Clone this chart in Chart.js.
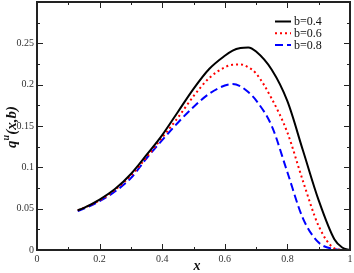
<!DOCTYPE html>
<html>
<head>
<meta charset="utf-8">
<script src="https://cdn.jsdelivr.net/npm/chart.js@4"></script>
<style>
html, body { margin: 0; padding: 0; background: #fff; }
</style>
</head>
<body>
<canvas id="myChart" width="354" height="273"></canvas>
<script>
// values
const xValues = [0.13, 0.15, 0.2, 0.25, 0.3, 0.35, 0.4, 0.45, 0.5, 0.55, 0.6, 0.625, 0.65, 0.675, 0.7, 0.75, 0.8, 0.85, 0.9, 0.95, 0.975, 1.0];
const qB04 = [0.048, 0.051, 0.061, 0.074, 0.092, 0.115, 0.139, 0.167, 0.195, 0.219, 0.235, 0.2412, 0.2443, 0.245, 0.240, 0.218, 0.180, 0.120, 0.060, 0.013, 0.003, 0];
const qB06 = [0.048, 0.051, 0.060, 0.073, 0.090, 0.112, 0.136, 0.160, 0.186, 0.208, 0.221, 0.2242, 0.2245, 0.221, 0.2135, 0.183, 0.142, 0.083, 0.029, 0.002, 0.0003, 0];
const qB08 = [0.047, 0.050, 0.059, 0.071, 0.087, 0.111, 0.133, 0.154, 0.173, 0.189, 0.199, 0.2008, 0.198, 0.191, 0.181, 0.150, 0.094, 0.038, 0.009, 0.001, 0, 0];
const seriesLabels = ['b=0.4', 'b=0.6', 'b=0.8'];
const xTicks = [0, 0.2, 0.4, 0.6, 0.8, 1];
const yTicks = [0, 0.05, 0.1, 0.15, 0.2, 0.25];

const serif = '"Liberation Serif", "DejaVu Serif", serif';

function toPoints(ys){
    return xValues.map((x, i) => ({x: x, y: ys[i]}));
}

// frame, inward ticks on all sides, legend and axis titles
const framePlugin = {
    id: 'frame',
    afterDraw(chart){
        const ctx = chart.ctx;
        const a = chart.chartArea;
        const xs = chart.scales.x;
        const ys = chart.scales.y;
        ctx.save();
        ctx.strokeStyle = '#222';
        ctx.lineWidth = 1;
        for (let v = 0; v <= 1.0001; v += 0.1){
            const px = Math.round(xs.getPixelForValue(v)) + 0.5;
            const major = Math.abs(v * 5 - Math.round(v * 5)) < 0.001;
            const len = major ? 6 : 3;
            ctx.beginPath();
            ctx.moveTo(px, a.bottom); ctx.lineTo(px, a.bottom - len);
            ctx.moveTo(px, a.top); ctx.lineTo(px, a.top + len);
            ctx.stroke();
        }
        for (let v = 0; v <= 0.3001; v += 0.025){
            const py = Math.round(ys.getPixelForValue(v)) + 0.5;
            const major = Math.abs(v * 20 - Math.round(v * 20)) < 0.001;
            const len = major ? 6 : 3;
            ctx.beginPath();
            ctx.moveTo(a.left, py); ctx.lineTo(a.left + len, py);
            ctx.moveTo(a.right, py); ctx.lineTo(a.right - len, py);
            ctx.stroke();
        }
        ctx.lineWidth = 2;
        ctx.strokeRect(a.left, a.top, a.right - a.left, a.bottom - a.top);

        // legend
        chart.data.datasets.forEach((ds, i) => {
            const y = 21.5 + i * 11.7;
            ctx.beginPath();
            ctx.strokeStyle = ds.borderColor;
            ctx.lineWidth = 2;
            ctx.setLineDash(ds.borderDash || []);
            ctx.moveTo(275, y); ctx.lineTo(291, y);
            ctx.stroke();
            ctx.setLineDash([]);
            ctx.fillStyle = '#111';
            ctx.font = '12px ' + serif;
            ctx.textBaseline = 'middle';
            ctx.textAlign = 'left';
            ctx.fillText(ds.label, 294, y + 0.5);
        });

        // x title
        ctx.fillStyle = '#111';
        ctx.font = 'italic bold 14px ' + serif;
        ctx.textAlign = 'center';
        ctx.textBaseline = 'alphabetic';
        ctx.fillText('x', 197, 270);

        // y title with superscript
        ctx.translate(16, 127);
        ctx.rotate(-Math.PI / 2);
        const f1 = 'italic bold 15px ' + serif;
        const f2 = 'italic bold 10px ' + serif;
        ctx.font = f1; const w1 = ctx.measureText('q').width;
        ctx.font = f2; const w2 = ctx.measureText('u').width;
        ctx.font = f1; const w3 = ctx.measureText('(x,b)').width;
        let sx = -(w1 + w2 + w3) / 2;
        ctx.textAlign = 'left';
        ctx.font = f1; ctx.fillText('q', sx, 0); sx += w1;
        ctx.font = f2; ctx.fillText('u', sx, -7); sx += w2;
        ctx.font = f1; ctx.fillText('(x,b)', sx, 0);
        ctx.restore();
    }
};

const ctx = document.getElementById('myChart').getContext('2d');
const myChart = new Chart(ctx, {
    type: 'scatter',
    data: {
        datasets: [{
            label: seriesLabels[0],
            data: toPoints(qB04),
            borderColor: '#000',
            borderWidth: 2,
            showLine: true,
            pointRadius: 0,
            cubicInterpolationMode: 'monotone'
        },{
            label: seriesLabels[1],
            data: toPoints(qB06),
            borderColor: '#ff0000',
            borderWidth: 2,
            borderDash: [2, 3],
            showLine: true,
            pointRadius: 0,
            cubicInterpolationMode: 'monotone'
        },{
            label: seriesLabels[2],
            data: toPoints(qB08),
            borderColor: '#0000ff',
            borderWidth: 2,
            borderDash: [8, 4],
            showLine: true,
            pointRadius: 0,
            cubicInterpolationMode: 'monotone'
        }]
    },
    options: {
        responsive: false,
        animation: false,
        layout: { padding: { top: 2, right: 4, left: 0, bottom: 0 } },
        plugins: {
            legend: { display: false },
            tooltip: { enabled: false }
        },
        scales: {
            x: {
                type: 'linear',
                min: 0,
                max: 1,
                afterBuildTicks: s => { s.ticks = xTicks.map(v => ({value: v})); },
                afterFit: s => { s.height = 23; s.paddingLeft = 0; s.paddingRight = 0; },
                ticks: {
                    callback: v => String(+v.toFixed(1)),
                    font: { family: serif, size: 10 },
                    color: '#333',
                    padding: 3,
                    maxRotation: 0
                },
                grid: { display: false, drawTicks: false },
                border: { display: false }
            },
            y: {
                type: 'linear',
                min: 0,
                max: 0.3,
                afterBuildTicks: s => { s.ticks = yTicks.map(v => ({value: v})); },
                afterFit: s => { s.width = 37; s.paddingTop = 0; s.paddingBottom = 0; },
                ticks: {
                    callback: v => String(+v.toFixed(2)),
                    font: { family: serif, size: 10 },
                    color: '#333',
                    padding: 3
                },
                grid: { display: false, drawTicks: false },
                border: { display: false }
            }
        }
    },
    plugins: [framePlugin]
});
</script>
</body>
</html>
